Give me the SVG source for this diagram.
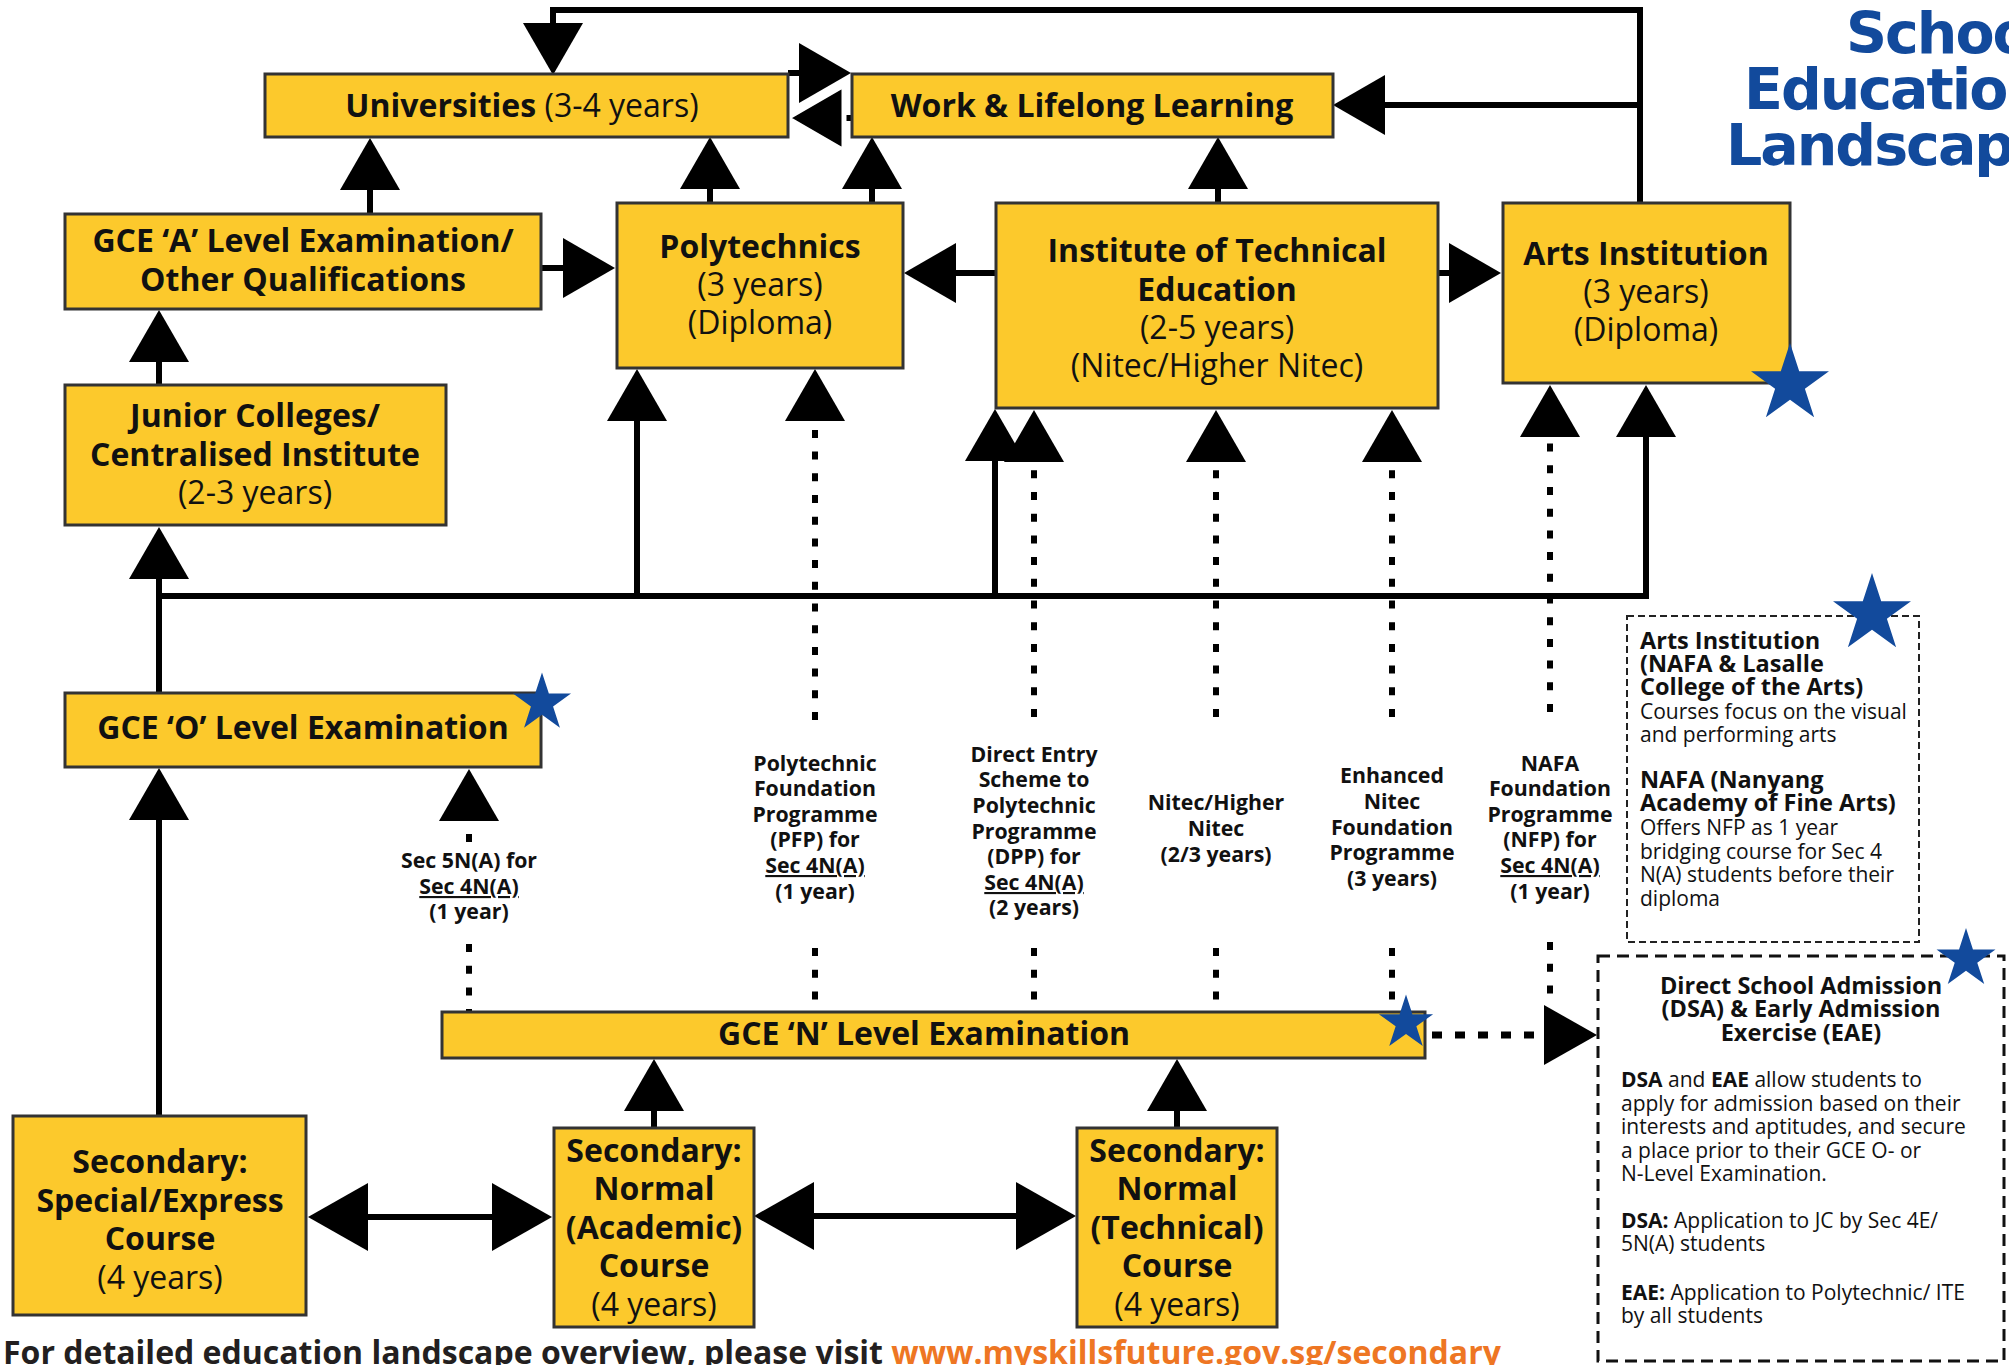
<svg xmlns="http://www.w3.org/2000/svg" width="2009" height="1365" viewBox="0 0 2009 1365">
<defs>
<style>
.box{fill:#FCC92C;stroke:#333;stroke-width:3}
.t{font-family:'Open Sans','Noto Sans',sans-serif;fill:#111;text-anchor:middle;font-size:32px}
.b{font-weight:700}
.r{font-weight:400}
.lbl{font-family:'Open Sans','Noto Sans',sans-serif;font-size:21.3px;font-weight:700;fill:#111;text-anchor:middle}
.u{text-decoration:underline}
.info{font-family:'Open Sans','Noto Sans',sans-serif;fill:#111}
.ib{font-size:23.5px;font-weight:700}
.ir{font-size:21px;font-weight:400}
.ln{fill:none;stroke:#000;stroke-width:6}
.dot{fill:none;stroke:#000;stroke-width:6;stroke-dasharray:8 13.7}
.star{fill:#124A9C}
</style>
<marker id="ah" viewBox="0 0 52 60" refX="0" refY="30" markerWidth="52" markerHeight="60" markerUnits="userSpaceOnUse" orient="auto"><path d="M0,0L52,30L0,60Z" fill="#000"/></marker>
<marker id="ahL" viewBox="0 0 60 68" refX="0" refY="34" markerWidth="60" markerHeight="68" markerUnits="userSpaceOnUse" orient="auto-start-reverse"><path d="M0,0L60,34L0,68Z" fill="#000"/></marker>
<path id="star" d="M0,-100L22.45,-30.9L95.11,-30.9L36.33,11.8L58.78,80.9L0,38.2L-58.78,80.9L-36.33,11.8L-95.11,-30.9L-22.45,-30.9Z"/>
</defs>
<rect width="2009" height="1365" fill="#fff"/>

<g id="connectors">
<path class="ln" d="M1640,203V10H553V23" marker-end="url(#ah)"/>
<path class="ln" d="M1640,105H1385" marker-end="url(#ah)"/>
<path class="ln" d="M788,73H800"/>
<polygon points="799,43 851,73 799,103" fill="#000"/>
<path class="ln" d="M842,118H852"/>
<polygon points="844,85 787,118 844,151" fill="#000" stroke="#fff" stroke-width="5" stroke-linejoin="round"/>
<path class="ln" d="M1218,203V189" marker-end="url(#ah)"/>
<path class="ln" d="M710,203V189" marker-end="url(#ah)"/>
<path class="ln" d="M872,203V189" marker-end="url(#ah)"/>
<path class="ln" d="M370,214V190" marker-end="url(#ah)"/>
<path class="ln" d="M541,268H563" marker-end="url(#ah)"/>
<path class="ln" d="M996,273H956" marker-end="url(#ah)"/>
<path class="ln" d="M1438,273H1449" marker-end="url(#ah)"/>
<path class="ln" d="M159,385V362" marker-end="url(#ah)"/>
<path class="ln" d="M159,693V579" marker-end="url(#ah)"/>
<path class="ln" d="M159,596H1646V437" marker-end="url(#ah)"/>
<path class="ln" d="M637,596V421" marker-end="url(#ah)"/>
<path class="ln" d="M995,596V461" marker-end="url(#ah)"/>
<path class="ln" d="M159,1116V820" marker-end="url(#ah)"/>
<path class="ln" d="M654,1128V1111" marker-end="url(#ah)"/>
<path class="ln" d="M1177,1128V1111" marker-end="url(#ah)"/>
<path class="ln" d="M368,1217H492" marker-start="url(#ahL)" marker-end="url(#ahL)"/>
<path class="ln" d="M814,1216H1016" marker-start="url(#ahL)" marker-end="url(#ahL)"/>

<path class="dot" d="M815,720V421" marker-end="url(#ah)"/>
<path class="dot" d="M469,842V821" marker-end="url(#ah)"/>
<path class="dot" d="M1034,717V462" marker-end="url(#ah)"/>
<path class="dot" d="M1216,717V462" marker-end="url(#ah)"/>
<path class="dot" d="M1392,717V462" marker-end="url(#ah)"/>
<path class="dot" d="M1550,712V437" marker-end="url(#ah)"/>

<path class="dot" d="M469,944V1012"/>
<path class="dot" d="M815,948V1012"/>
<path class="dot" d="M1034,948V1012"/>
<path class="dot" d="M1216,948V1012"/>
<path class="dot" d="M1392,948V1012"/>
<path class="dot" d="M1550,942V1004"/>
<path fill="none" stroke="#000" stroke-width="7" stroke-dasharray="10 13" d="M1432,1035H1540"/>
<polygon points="1544,1005 1597,1035 1544,1065" fill="#000"/>
</g>

<g id="universities">
<rect class="box" x="265" y="74" width="523" height="63"/>
<text class="t b" x="522" y="117">Universities<tspan class="r"> (3-4 years)</tspan></text>
</g>
<g id="work">
<rect class="box" x="852" y="74" width="481" height="63"/>
<text class="t b" x="1092" y="117">Work &amp; Lifelong Learning</text>
</g>
<g id="alevel">
<rect class="box" x="65" y="214" width="476" height="95"/>
<text class="t b" x="303" y="252">GCE ‘A’ Level Examination/</text>
<text class="t b" x="303" y="291">Other Qualifications</text>
</g>
<g id="polytechnics">
<rect class="box" x="617" y="203" width="286" height="165"/>
<text class="t b" x="760" y="258">Polytechnics</text>
<text class="t r" x="760" y="296">(3 years)</text>
<text class="t r" x="760" y="334">(Diploma)</text>
</g>
<g id="ite">
<rect class="box" x="996" y="203" width="442" height="205"/>
<text class="t b" x="1217" y="262">Institute of Technical</text>
<text class="t b" x="1217" y="301">Education</text>
<text class="t r" x="1217" y="339">(2-5 years)</text>
<text class="t r" x="1217" y="377">(Nitec/Higher Nitec)</text>
</g>
<g id="arts">
<rect class="box" x="1503" y="203" width="287" height="180"/>
<text class="t b" x="1646" y="265">Arts Institution</text>
<text class="t r" x="1646" y="303">(3 years)</text>
<text class="t r" x="1646" y="341">(Diploma)</text>
<use href="#star" class="star" transform="translate(1790,384) scale(0.41)"/>
</g>
<g id="jc">
<rect class="box" x="65" y="385" width="381" height="140"/>
<text class="t b" x="255" y="427">Junior Colleges/</text>
<text class="t b" x="255" y="466">Centralised Institute</text>
<text class="t r" x="255" y="504">(2-3 years)</text>
</g>
<g id="olevel">
<rect class="box" x="65" y="693" width="476" height="74"/>
<text class="t b" x="303" y="739">GCE ‘O’ Level Examination</text>
<use href="#star" class="star" transform="translate(542,703) scale(0.305)"/>
</g>
<g id="nlevel">
<rect class="box" x="442" y="1012" width="983" height="46"/>
<text class="t b" x="924" y="1045">GCE ‘N’ Level Examination</text>
<use href="#star" class="star" transform="translate(1406,1023) scale(0.285)"/>
</g>
<g id="special">
<rect class="box" x="13" y="1116" width="293" height="199"/>
<text class="t b" x="160" y="1173">Secondary:</text>
<text class="t b" x="160" y="1212">Special/Express</text>
<text class="t b" x="160" y="1250">Course</text>
<text class="t r" x="160" y="1289">(4 years)</text>
</g>
<g id="academic">
<rect class="box" x="554" y="1128" width="200" height="199"/>
<text class="t b" x="654" y="1162">Secondary:</text>
<text class="t b" x="654" y="1200">Normal</text>
<text class="t b" x="654" y="1239">(Academic)</text>
<text class="t b" x="654" y="1277">Course</text>
<text class="t r" x="654" y="1316">(4 years)</text>
</g>
<g id="technical">
<rect class="box" x="1077" y="1128" width="200" height="199"/>
<text class="t b" x="1177" y="1162">Secondary:</text>
<text class="t b" x="1177" y="1200">Normal</text>
<text class="t b" x="1177" y="1239">(Technical)</text>
<text class="t b" x="1177" y="1277">Course</text>
<text class="t r" x="1177" y="1316">(4 years)</text>
</g>

<g id="label-5na">
<text class="lbl" x="469" y="868">Sec 5N(A) for</text>
<text class="lbl u" x="469" y="894">Sec 4N(A)</text>
<text class="lbl" x="469" y="919">(1 year)</text>
</g>
<g id="label-pfp">
<text class="lbl" x="815" y="771">Polytechnic</text>
<text class="lbl" x="815" y="796">Foundation</text>
<text class="lbl" x="815" y="822">Programme</text>
<text class="lbl" x="815" y="847">(PFP) for</text>
<text class="lbl u" x="815" y="873">Sec 4N(A)</text>
<text class="lbl" x="815" y="899">(1 year)</text>
</g>
<g id="label-dpp">
<text class="lbl" x="1034" y="762">Direct Entry</text>
<text class="lbl" x="1034" y="787">Scheme to</text>
<text class="lbl" x="1034" y="813">Polytechnic</text>
<text class="lbl" x="1034" y="839">Programme</text>
<text class="lbl" x="1034" y="864">(DPP) for</text>
<text class="lbl u" x="1034" y="890">Sec 4N(A)</text>
<text class="lbl" x="1034" y="915">(2 years)</text>
</g>
<g id="label-nitec">
<text class="lbl" x="1216" y="810">Nitec/Higher</text>
<text class="lbl" x="1216" y="836">Nitec</text>
<text class="lbl" x="1216" y="862">(2/3 years)</text>
</g>
<g id="label-enhanced">
<text class="lbl" x="1392" y="783">Enhanced</text>
<text class="lbl" x="1392" y="809">Nitec</text>
<text class="lbl" x="1392" y="835">Foundation</text>
<text class="lbl" x="1392" y="860">Programme</text>
<text class="lbl" x="1392" y="886">(3 years)</text>
</g>
<g id="label-nfp">
<text class="lbl" x="1550" y="771">NAFA</text>
<text class="lbl" x="1550" y="796">Foundation</text>
<text class="lbl" x="1550" y="822">Programme</text>
<text class="lbl" x="1550" y="847">(NFP) for</text>
<text class="lbl u" x="1550" y="873">Sec 4N(A)</text>
<text class="lbl" x="1550" y="899">(1 year)</text>
</g>

<g id="arts-info">
<rect x="1627" y="616" width="292" height="326" fill="none" stroke="#222" stroke-width="2" stroke-dasharray="7 4"/>
<text class="info ib" x="1640" y="649">Arts Institution</text>
<text class="info ib" x="1640" y="672">(NAFA &amp; Lasalle</text>
<text class="info ib" x="1640" y="695">College of the Arts)</text>
<text class="info ir" x="1640" y="719">Courses focus on the visual</text>
<text class="info ir" x="1640" y="742">and performing arts</text>
<text class="info ib" x="1640" y="788">NAFA (Nanyang</text>
<text class="info ib" x="1640" y="811">Academy of Fine Arts)</text>
<text class="info ir" x="1640" y="835">Offers NFP as 1 year</text>
<text class="info ir" x="1640" y="859">bridging course for Sec 4</text>
<text class="info ir" x="1640" y="882">N(A) students before their</text>
<text class="info ir" x="1640" y="906">diploma</text>
<use href="#star" class="star" transform="translate(1872,614) scale(0.41)"/>
</g>

<g id="dsa">
<rect x="1598" y="956" width="406" height="405" fill="none" stroke="#111" stroke-width="3" stroke-dasharray="12 7"/>
<text class="info ib" x="1801" y="994" text-anchor="middle" font-size="24">Direct School Admission</text>
<text class="info ib" x="1801" y="1017" text-anchor="middle" font-size="24">(DSA) &amp; Early Admission</text>
<text class="info ib" x="1801" y="1041" text-anchor="middle" font-size="24">Exercise (EAE)</text>
<text class="info ir" x="1621" y="1087"><tspan font-weight="700">DSA</tspan> and <tspan font-weight="700">EAE</tspan> allow students to</text>
<text class="info ir" x="1621" y="1111">apply for admission based on their</text>
<text class="info ir" x="1621" y="1134">interests and aptitudes, and secure</text>
<text class="info ir" x="1621" y="1158">a place prior to their GCE O- or</text>
<text class="info ir" x="1621" y="1181">N-Level Examination.</text>
<text class="info ir" x="1621" y="1228"><tspan font-weight="700">DSA:</tspan> Application to JC by Sec 4E/</text>
<text class="info ir" x="1621" y="1251">5N(A) students</text>
<text class="info ir" x="1621" y="1300"><tspan font-weight="700">EAE:</tspan> Application to Polytechnic/ ITE</text>
<text class="info ir" x="1621" y="1323">by all students</text>
<use href="#star" class="star" transform="translate(1966,959) scale(0.31)"/>
</g>

<g id="title" font-family="'DejaVu Sans',sans-serif" font-weight="700" font-size="57" fill="#124A9C" letter-spacing="-2">
<text x="1846" y="53">School</text>
<text x="1744" y="109">Education</text>
<text x="1726" y="165">Landscape</text>
</g>

<g id="footer">
<text x="3" y="1364" font-family="'Open Sans','Noto Sans',sans-serif" font-weight="700" font-size="32" fill="#231F20">For detailed education landscape overview, please visit <tspan fill="#EE7623">www.myskillsfuture.gov.sg/secondary</tspan></text>
</g>
</svg>
